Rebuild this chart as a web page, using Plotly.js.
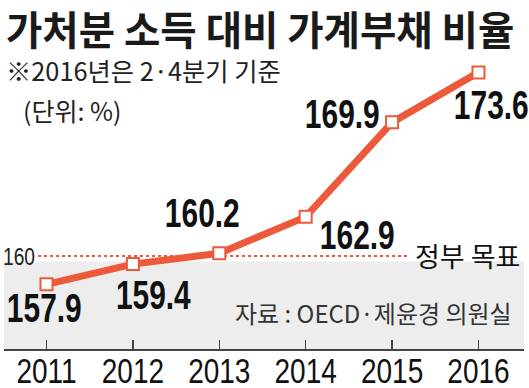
<!DOCTYPE html>
<html>
<head>
<meta charset="utf-8">
<script src="https://cdn.plot.ly/plotly-3.0.1.min.js"></script>
<style>html,body{margin:0;padding:0;background:#fff;}#chart{width:529px;height:388px;}</style>
</head>
<body>
<div id="chart"></div>
<script>
const years = [2011, 2012, 2013, 2014, 2015, 2016];
const yearLabels = ['2011', '2012', '2013', '2014', '2015', '2016'];
const ratio = [157.9, 159.4, 160.2, 162.9, 169.9, 173.6];
const ratioLabels = ['157.9', '159.4', '160.2', '162.9', '169.9', '173.6'];
const targetValue = 160;
const targetText = '160';
const targetLabel = '정부 목표';
const titleText = '가처분 소득 대비 가계부채 비율';
const noteText = '※2016년은 2·4분기 기준';
const unitText = '(단위: %)';
const sourceText = '자료 : OECD·제윤경 의원실';

const labelOffsets = [[-2, -24], [21, -31], [-17, 40], [52, -18], [-50, 8], [13, -33]];

const ORANGE = '#EC5A3B';
const KR = '"Noto Sans CJK KR", "Noto Sans", sans-serif';
const NUM = '"Liberation Sans", Arial, sans-serif';

const yMin = 153.111, yMax = 178.963;

const annotations = ratio.map((v, i) => ({
  x: years[i], y: v, xref: 'x', yref: 'y',
  text: '<b>' + ratioLabels[i] + '</b>', showarrow: false,
  xanchor: 'center', yanchor: 'middle',
  xshift: labelOffsets[i][0], yshift: labelOffsets[i][1],
  font: {family: NUM, size: 41, color: '#111'}
}));

annotations.push(
  {xref: 'paper', yref: 'paper', x: 0, y: 1, xanchor: 'left', yanchor: 'top', xshift: 0, yshift: 3,
   text: '<b>' + titleText + '</b>', showarrow: false, font: {family: KR, size: 39.5, color: '#1a1a1a'}},
  {xref: 'paper', yref: 'paper', x: 0, y: 1, xanchor: 'left', yanchor: 'top', xshift: 0, yshift: -50,
   text: noteText, showarrow: false, font: {family: KR, size: 25.3, color: '#222'}},
  {xref: 'paper', yref: 'paper', x: 0, y: 1, xanchor: 'left', yanchor: 'top', xshift: 17, yshift: -90,
   text: unitText, showarrow: false, font: {family: KR, size: 25, color: '#222'}},
  {xref: 'paper', yref: 'y', x: 0, y: targetValue, xanchor: 'left', yanchor: 'middle', xshift: -3,
   text: targetText, showarrow: false, font: {family: NUM, size: 24, color: '#222'}},
  {xref: 'paper', yref: 'y', x: 1, y: targetValue, xanchor: 'right', yanchor: 'middle', xshift: -2, yshift: 1,
   text: targetLabel, showarrow: false, font: {family: KR, size: 27, color: '#111'}},
  {xref: 'paper', yref: 'paper', x: 0.98, y: 0.106, xanchor: 'right', yanchor: 'middle',
   text: sourceText, showarrow: false, font: {family: KR, size: 24, color: '#333'}}
);

const trace = {
  x: years, y: ratio, type: 'scatter', mode: 'lines+markers', cliponaxis: false,
  line: {color: ORANGE, width: 7},
  marker: {symbol: 'square', size: 12, color: '#fff', line: {color: ORANGE, width: 2}},
  hoverinfo: 'skip'
};

const layout = {
  width: 529, height: 388,
  margin: {l: 4, r: 5, t: 0, b: 39, pad: 0},
  paper_bgcolor: '#fff', plot_bgcolor: '#fff',
  showlegend: false,
  xaxis: {
    range: [2010.508, 2016.527], tickvals: years, ticktext: yearLabels,
    showline: true, linecolor: '#444', linewidth: 1.5,
    ticks: 'inside', ticklen: 9, tickwidth: 1.5, tickcolor: '#444',
    ticklabelstandoff: -9,
    showgrid: false, zeroline: false,
    tickfont: {family: NUM, size: 35, color: '#111'}
  },
  yaxis: {range: [yMin, yMax], visible: false, showgrid: false, zeroline: false},
  shapes: [
    {type: 'rect', xref: 'paper', yref: 'y', x0: 0, x1: 1, y0: yMin, y1: 159.6,
     fillcolor: '#EDEDED', line: {width: 0}, layer: 'below'},
    {type: 'line', xref: 'paper', yref: 'y', x0: 0.0654, x1: 0.777, y0: targetValue, y1: targetValue,
     line: {color: ORANGE, width: 2, dash: 'dot'}, layer: 'below'}
  ],
  annotations: annotations
};

// horizontally condense text (the original uses a narrow typeface)
function squeeze(el, s, anchor) {
  const b = el.getBBox();
  const cx = anchor === 'left' ? b.x : (anchor === 'right' ? b.x + b.width : b.x + b.width / 2);
  const prev = el.getAttribute('transform') || '';
  el.setAttribute('transform', prev + ' translate(' + cx + ',0) scale(' + s + ',1) translate(' + (-cx) + ',0)');
}

Plotly.newPlot('chart', [trace], layout, {displayModeBar: false, staticPlot: true}).then(gd => {
  gd.querySelectorAll('g.annotation').forEach(g => {
    const idx = +g.getAttribute('data-index');
    const t = g.querySelector('text.annotation-text');
    if (!t) return;
    if (idx < ratio.length) squeeze(t, 0.73, 'center');
    else if (idx === ratio.length + 3) squeeze(t, 0.8, 'left');
  });
  gd.querySelectorAll('g.xtick text').forEach(t => squeeze(t, 0.8, 'center'));
});
</script>
</body>
</html>
